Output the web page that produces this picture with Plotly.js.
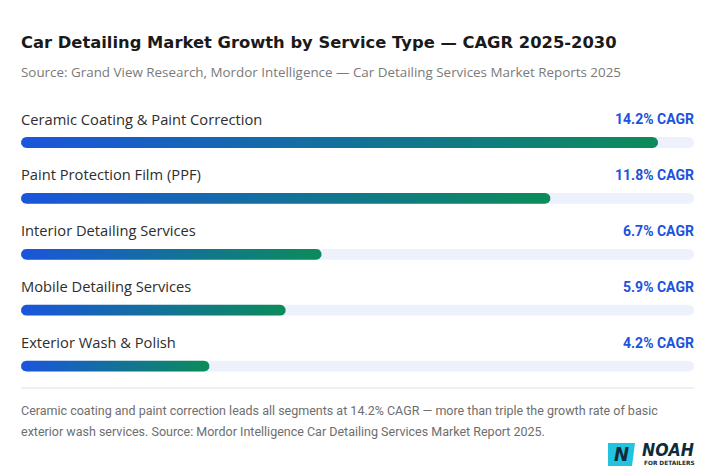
<!DOCTYPE html>
<html><head><meta charset="utf-8">
<script src="https://cdn.plot.ly/plotly-3.0.1.min.js"></script>
<style>html,body{margin:0;padding:0;background:#fff}#chart{width:715px;height:467px}</style>
</head><body><div id="chart"></div>
<script>
const categories = [
  "Ceramic Coating & Paint Correction",
  "Paint Protection Film (PPF)",
  "Interior Detailing Services",
  "Mobile Detailing Services",
  "Exterior Wash & Polish"
];
const cagr = [14.2, 11.8, 6.7, 5.9, 4.2];
const valueLabels = ["14.2% CAGR", "11.8% CAGR", "6.7% CAGR", "5.9% CAGR", "4.2% CAGR"];
const scaleMax = 15;
const titleText = "Car Detailing Market Growth by Service Type — CAGR 2025-2030";
const subtitleText = "Source: Grand View Research, Mordor Intelligence — Car Detailing Services Market Reports 2025";
const noteLines = [
  "Ceramic coating and paint correction leads all segments at 14.2% CAGR — more than triple the growth rate of basic",
  "exterior wash services. Source: Mordor Intelligence Car Detailing Services Market Report 2025."
];

// layout geometry (pixels)
const W = 715, H = 467;
const mL = 21, mR = 21, plotTop = 100, plotBot = 390;
const plotW = W - mL - mR, plotH = plotBot - plotTop;
const rowPx = 55.9, firstRowPx = 142.5;
const yTop = -(firstRowPx - plotTop) / rowPx;
const yBot = (categories.length - 1) + (plotBot - (firstRowPx + rowPx * (categories.length - 1))) / rowPx;
const halfPx = 5.4;
const rx = halfPx * scaleMax / plotW;
const hy = halfPx / rowPx;

function stadium(x0, x1, c) {
  const xs = [], ys = [];
  const n = 24;
  for (let i = 0; i <= n; i++) {
    const t = -Math.PI / 2 + Math.PI * i / n;
    xs.push(x1 - rx + rx * Math.cos(t)); ys.push(c + hy * Math.sin(t));
  }
  for (let i = 0; i <= n; i++) {
    const t = Math.PI / 2 + Math.PI * i / n;
    xs.push(x0 + rx + rx * Math.cos(t)); ys.push(c + hy * Math.sin(t));
  }
  xs.push(xs[0]); ys.push(ys[0]);
  return {xs, ys};
}

const traces = [];
let tx = [], ty = [];
categories.forEach((c, i) => {
  const s = stadium(0, scaleMax, i);
  tx = tx.concat(s.xs, [null]); ty = ty.concat(s.ys, [null]);
});
traces.push({type: 'scatter', mode: 'lines', x: tx, y: ty, fill: 'toself',
  fillcolor: '#edf1fc', line: {width: 0, color: 'rgba(0,0,0,0)'}, hoverinfo: 'skip', showlegend: false});
cagr.forEach((v, i) => {
  const s = stadium(0, v, i);
  traces.push({type: 'scatter', mode: 'lines', x: s.xs, y: s.ys, fill: 'toself',
    fillcolor: '#1763b8',
    fillgradient: {type: 'horizontal', colorscale: [[0, '#1b55dc'], [1, '#0b8c5a']]},
    line: {width: 0, color: 'rgba(0,0,0,0)'}, name: categories[i], hoverinfo: 'skip', showlegend: false});
});

const py = p => (plotBot - p) / plotH;
const px = p => (p - mL) / plotW;

const annotations = [];
annotations.push({xref: 'paper', yref: 'paper', x: 0, y: py(42), xanchor: 'left', yanchor: 'middle',
  xshift: -2, text: '<b>' + titleText + '</b>', showarrow: false,
  font: {family: 'DejaVu Sans, sans-serif', size: 16.35, color: '#1a1a1a'}});
annotations.push({xref: 'paper', yref: 'paper', x: 0, y: py(72), xanchor: 'left', yanchor: 'middle',
  xshift: -2, text: subtitleText, showarrow: false,
  font: {family: 'Open Sans, sans-serif', size: 13.4, color: '#7a7a7a'}});
categories.forEach((c, i) => {
  annotations.push({xref: 'x', yref: 'y', x: 0, y: i - 24 / rowPx, xanchor: 'left', yanchor: 'middle',
    xshift: -2, text: c, showarrow: false,
    font: {family: 'Open Sans, sans-serif', size: 14.7, color: '#2e2e2e'}});
  annotations.push({xref: 'x', yref: 'y', x: scaleMax, y: i - 23.5 / rowPx, xanchor: 'right', yanchor: 'middle',
    xshift: 2, text: '<b>' + valueLabels[i] + '</b>', showarrow: false,
    font: {family: 'Roboto, sans-serif', size: 14, color: '#2152dc'}});
});
noteLines.forEach((t, i) => {
  annotations.push({xref: 'paper', yref: 'paper', x: 0, y: py(410 + 21 * i), xanchor: 'left', yanchor: 'middle',
    xshift: -2, text: t, showarrow: false,
    font: {family: 'Roboto, sans-serif', size: 12.5, color: '#6e6e6e'}});
});
// logo
annotations.push({xref: 'paper', yref: 'paper', x: px(621), y: py(454), xanchor: 'center', yanchor: 'middle',
  text: '<b><i>N</i></b>', showarrow: false, font: {family: 'DejaVu Sans Condensed, DejaVu Sans, sans-serif', size: 20, color: '#0f2b3a'}});
annotations.push({xref: 'paper', yref: 'paper', x: px(640), y: py(450), xanchor: 'left', yanchor: 'middle',
  text: '<b><i>NOAH</i></b>', showarrow: false, font: {family: 'DejaVu Sans Condensed, DejaVu Sans, sans-serif', size: 17.5, color: '#0f2b3a'}});
annotations.push({xref: 'paper', yref: 'paper', x: px(642), y: py(463.5), xanchor: 'left', yanchor: 'middle',
  text: '<b>FOR DETAILERS</b>', showarrow: false, font: {family: 'DejaVu Sans, sans-serif', size: 5.8, color: '#0f2b3a'}});

const P = (x, y) => px(x).toFixed(4) + ',' + py(y).toFixed(4);
const shapes = [
  {type: 'line', xref: 'paper', yref: 'paper', x0: 0, x1: 1, y0: py(388), y1: py(388),
   line: {color: '#e3e0db', width: 1}},
  {type: 'path', xref: 'paper', yref: 'paper',
   path: 'M' + P(608, 443) + ' L' + P(635, 443) + ' L' + P(632, 466) + ' L' + P(608, 466) + ' Z',
   fillcolor: '#22c3e0', line: {width: 0}, layer: 'below'}
];

const layout = {
  width: W, height: H,
  margin: {l: mL, r: mR, t: plotTop, b: H - plotBot, pad: 0},
  paper_bgcolor: '#ffffff', plot_bgcolor: '#ffffff',
  xaxis: {range: [0, scaleMax], visible: false, fixedrange: true},
  yaxis: {range: [yBot, yTop], visible: false, fixedrange: true},
  showlegend: false,
  annotations, shapes
};
Plotly.newPlot('chart', traces, layout, {displayModeBar: false, staticPlot: true});
</script></body></html>
